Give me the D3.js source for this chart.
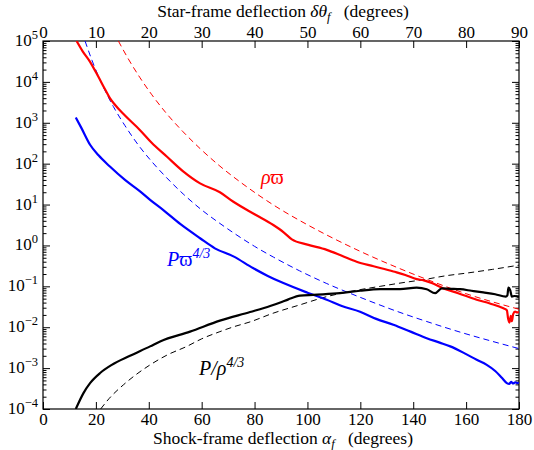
<!DOCTYPE html>
<html><head><meta charset="utf-8">
<script src="https://cdn.jsdelivr.net/npm/d3@7"></script>
</head><body style="margin:0;background:#fff">
<svg id="c" width="534" height="450"></svg>
<script>
// ---- tick labels ----
const alphaTicks = [0,20,40,60,80,100,120,140,160,180];
const deltaTicks = [0,10,20,30,40,50,60,70,80,90];
const yTickExps = [5,4,3,2,1,0,-1,-2,-3,-4];

// ---- series: [alpha_f (deg), value] ----
const rhoVarpi = [[12.7,1e5],[15,5.6e4],[17.8,3.1e4],[20.9,1.35e4],[23.5,6.5e3],[25.3,4.0e3],[27.2,2.75e3],[31,1.5e3],[36.7,660],[41,330],[46.8,150],[53,65],[59.4,33],[66.9,20],[72,11.7],[80,5.8],[87.1,3.16],[91,2.1],[94.1,1.41],[100,1.05],[107.3,0.78],[113,0.56],[118.6,0.40],[125,0.31],[132.5,0.23],[137,0.19],[141.3,0.15],[144,0.14],[147,0.12],[151.4,0.089],[157,0.068],[164,0.047],[169,0.038],[174.1,0.029],[175.4,0.026],[175.9,0.016],[176.4,0.013],[176.9,0.019],[177.3,0.014],[177.8,0.021],[178.5,0.024],[179.3,0.023],[180,0.024]];
const rhoVarpiFit = [[28.5,1e5],[32,3.9e4],[36.7,1.26e4],[41,5.0e3],[46.8,1.66e3],[53,600],[59.4,234],[66.9,87],[75,34],[87.1,9.8],[100,3.2],[107.3,1.8],[119.9,0.72],[135,0.27],[145.1,0.148],[160,0.066],[180,0.0275]];
const pVarpi = [[12.4,1350],[14.5,750],[17.8,290],[21,160],[25.3,85],[31,40],[36.7,21],[40.5,13],[45.4,7.4],[52,3.3],[59.4,1.5],[65,0.85],[72,0.54],[79.4,0.28],[85,0.18],[90.9,0.12],[100,0.07],[107.3,0.047],[113,0.033],[119.9,0.024],[126,0.016],[132.5,0.0115],[139,0.0078],[145.1,0.0054],[150,0.0042],[154,0.0034],[160,0.0022],[164,0.0016],[167.8,0.0012],[171,0.00085],[173.5,0.00058],[175.4,0.00043],[176.3,0.00041],[177,0.00046],[177.8,0.00042],[178.6,0.00045],[179.3,0.00043],[180,0.00044]];
const pVarpiFit = [[15.9,1e5],[18.5,3.4e4],[21.3,1.23e4],[24,5.2e3],[26.6,2.5e3],[31,850],[36.7,251],[41,115],[46.8,45],[53,18.2],[60.6,6.9],[66,3.8],[72,2.04],[80,0.95],[87.1,0.52],[97,0.24],[107.3,0.117],[119.9,0.054],[135,0.023],[145.1,0.0138],[157.7,0.0076],[170,0.0045],[180,0.003]];
const pOverRho = [[12.4,1e-4],[15.3,2.45e-4],[17.8,4.3e-4],[21.6,7.6e-4],[26,1.2e-3],[32.9,2.0e-3],[40.5,3.4e-3],[44.3,4.5e-3],[55.6,7.8e-3],[66.9,0.0145],[78.3,0.0235],[85.9,0.033],[90,0.041],[92.8,0.048],[97.2,0.059],[102.2,0.062],[112.3,0.068],[119.9,0.078],[127.5,0.085],[135,0.085],[141.3,0.093],[145.1,0.085],[148.3,0.068],[150.8,0.089],[154,0.087],[157.7,0.085],[162,0.078],[166.5,0.071],[171,0.064],[175,0.056],[175.6,0.06],[176,0.093],[176.7,0.08],[177.3,0.056],[178.3,0.058],[180,0.054]];
const pOverRhoFit = [[21.8,1e-4],[25,1.8e-4],[30.4,3.9e-4],[35,6.8e-4],[40.5,1.2e-3],[47,2.1e-3],[54.4,3.4e-3],[60,5.2e-3],[66.9,7.8e-3],[72,0.0102],[78.3,0.0135],[87,0.022],[97,0.035],[107.3,0.056],[113,0.068],[119.9,0.083],[127.5,0.1],[135,0.12],[145.1,0.15],[152,0.18],[160,0.21],[170,0.26],[180,0.33]];

const FONT="'Liberation Serif'";
const L=43, R=519, T=41, B=409;
const svg=d3.select("#c").style("font-family",FONT);
const x=d3.scaleLinear().domain([0,180]).range([L,R]);
const xTop=d3.scaleLinear().domain([0,90]).range([L,R]);
const y=d3.scaleLog().domain([1e-4,1e5]).range([B,T]);

svg.append("defs").append("clipPath").attr("id","clip")
  .append("rect").attr("x",L).attr("y",T).attr("width",R-L).attr("height",B-T);

const majorVals=yTickExps.map(e=>Math.pow(10,e));
const minorVals=[];
for(let e=-4;e<5;e++) for(let k=2;k<10;k++) minorVals.push(k*Math.pow(10,e));

function styleAxis(g){
  g.attr("font-family",null).attr("font-size",null);
  g.select(".domain").remove();
  g.selectAll(".tick line").attr("stroke","#000").attr("stroke-width",1);
  g.selectAll("text").style("font-family",FONT).attr("font-size",17).attr("fill","#000");
}

svg.append("g").attr("transform",`translate(0,${B})`)
  .call(d3.axisBottom(x).tickValues(alphaTicks).tickSize(-7).tickPadding(4).tickFormat(d3.format("d")))
  .call(styleAxis);
svg.append("g").attr("transform",`translate(0,${T})`)
  .call(d3.axisTop(xTop).tickValues(deltaTicks).tickSize(-7).tickPadding(3).tickFormat(d3.format("d")))
  .call(styleAxis);
svg.append("g").attr("transform",`translate(${L},0)`)
  .call(d3.axisLeft(y).tickValues(majorVals).tickSize(-7).tickFormat(""))
  .call(styleAxis);
svg.append("g").attr("transform",`translate(${L},0)`)
  .call(d3.axisLeft(y).tickValues(minorVals).tickSize(-3.5).tickFormat(""))
  .call(styleAxis);
svg.append("g").attr("transform",`translate(${R},0)`)
  .call(d3.axisRight(y).tickValues(majorVals).tickSize(-7).tickFormat(""))
  .call(styleAxis);
svg.append("g").attr("transform",`translate(${R},0)`)
  .call(d3.axisRight(y).tickValues(minorVals).tickSize(-3.5).tickFormat(""))
  .call(styleAxis);

// y labels
const yl=svg.append("g");
yTickExps.forEach(e=>{
  const t=yl.append("text").attr("x",L-5).attr("y",y(Math.pow(10,e))+5)
    .attr("text-anchor","end").attr("font-size",17).attr("fill","#000").style("font-family",FONT);
  t.append("tspan").text("10");
  t.append("tspan").attr("dy",-7).attr("font-size",12.5).text(e<0?"\u2212"+(-e):String(e));
});

// frame
svg.append("rect").attr("x",L).attr("y",T).attr("width",R-L).attr("height",B-T)
  .attr("fill","none").attr("stroke","#000").attr("stroke-width",1.2);

// lines
const line=d3.line().x(d=>x(d[0])).y(d=>y(d[1])).curve(d3.curveMonotoneX);
const plot=svg.append("g").attr("clip-path","url(#clip)");
function draw(data,color,dashed){
  plot.append("path").datum(data).attr("d",line).attr("fill","none")
    .attr("stroke",color).attr("stroke-width",dashed?1:2.2)
    .attr("stroke-dasharray",dashed?"6,4":null).attr("stroke-linejoin","round");
}
draw(rhoVarpiFit,"#ff0000",true);
draw(pVarpiFit,"#0000ff",true);
draw(pOverRhoFit,"#000000",true);
draw(rhoVarpi,"#ff0000",false);
draw(pVarpi,"#0000ff",false);
draw(pOverRho,"#000000",false);

// curve labels
function lab(xp,yp,color){ return svg.append("text").attr("x",xp).attr("y",yp).attr("font-size",20).attr("fill",color).style("font-family",FONT); }
const t1=lab(261,184,"#ff0000");
t1.append("tspan").attr("font-style","italic").text("\u03C1");
t1.append("tspan").text("\u03D6");
const t2=lab(167,266,"#0000ff");
t2.append("tspan").attr("font-style","italic").text("P");
t2.append("tspan").text("\u03D6");
t2.append("tspan").attr("dy",-8).attr("font-size",14).attr("font-style","italic").text("4/3");
const t3=lab(199,375,"#000");
t3.append("tspan").attr("font-style","italic").text("P/\u03C1");
t3.append("tspan").attr("dy",-8).attr("font-size",14).attr("font-style","italic").text("4/3");

// axis titles
const tt=svg.append("text").attr("x",283).attr("y",17).attr("text-anchor","middle").attr("font-size",17.5).attr("fill","#000").style("font-family",FONT);
tt.append("tspan").text("Star-frame deflection ");
tt.append("tspan").attr("font-style","italic").text("\u03B4\u03B8");
tt.append("tspan").attr("font-style","italic").attr("font-size",12.5).attr("dy",4).text("f");
tt.append("tspan").attr("dy",-4).text("\u2002 (degrees)");
const bt=svg.append("text").attr("x",283).attr("y",444).attr("text-anchor","middle").attr("font-size",17.5).attr("fill","#000").style("font-family",FONT);
bt.append("tspan").text("Shock-frame deflection ");
bt.append("tspan").attr("font-style","italic").text("\u03B1");
bt.append("tspan").attr("font-style","italic").attr("font-size",12.5).attr("dy",4).text("f");
bt.append("tspan").attr("dy",-4).text("\u2002 (degrees)");
</script>
</body></html>
